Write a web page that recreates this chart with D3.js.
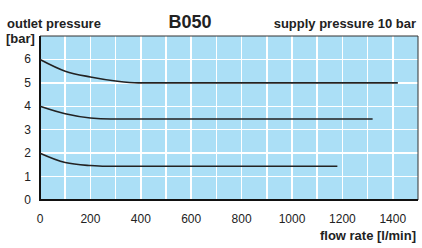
<!DOCTYPE html>
<html lang="en">
<head>
  <meta charset="UTF-8">
  <title>B050</title>
  <style type="text/css">
    body { margin: 0; background: #fff; font-family: "Liberation Sans", Arial, sans-serif; }
    .grid line { stroke: #fff; stroke-width: 1.5; shape-rendering: crispEdges; }
    .tick-label { font-size: 12px; fill: #222; }
    .label { font-size: 13px; font-weight: bold; fill: #222; }
  </style>
  <script src="https://cdn.jsdelivr.net/npm/d3@7"></script>
</head>
<body>
  <div class="main"></div>
  <script>
    // tick labels
    var xTicks = [0, 200, 400, 600, 800, 1000, 1200, 1400];
    var yTicks = [0, 1, 2, 3, 4, 5, 6];

    // curves: flow [l/min] vs outlet pressure [bar]
    var flow6 = [0, 100, 200, 300, 390, 1420];
    var press6 = [6, 5.5, 5.25, 5.08, 5.0, 5.0];
    var flow4 = [0, 100, 200, 280, 1320];
    var press4 = [4, 3.68, 3.5, 3.46, 3.46];
    var flow2 = [0, 100, 200, 260, 1180];
    var press2 = [2, 1.6, 1.47, 1.44, 1.44];

    var width = 422, height = 248;
    var x = d3.scaleLinear().domain([0, 1500]).range([40, 418]);
    var y = d3.scaleLinear().domain([0, 7]).range([200, 36]);

    var svg = d3.select(".main").append("svg")
      .attr("width", width)
      .attr("height", height);

    // plot background
    svg.append("rect")
      .attr("x", x(0)).attr("y", y(7))
      .attr("width", x(1500) - x(0)).attr("height", y(0) - y(7))
      .attr("fill", "#abdff6");

    // white grid
    var grid = svg.append("g").attr("class", "grid");
    grid.selectAll(".vx")
        .data(d3.range(100, 1500, 100))
      .enter().append("line")
        .attr("x1", function(d) { return x(d); })
        .attr("x2", function(d) { return x(d); })
        .attr("y1", y(7)).attr("y2", y(0));
    grid.selectAll(".hy")
        .data(d3.range(1, 7))
      .enter().append("line")
        .attr("x1", x(0)).attr("x2", x(1500))
        .attr("y1", function(d) { return y(d); })
        .attr("y2", function(d) { return y(d); });

    // frame: thin top/right, heavy left/bottom
    svg.append("path")
      .attr("d", "M" + x(0) + "," + y(7) + "H" + x(1500) + "V" + y(0))
      .attr("fill", "none").attr("stroke", "#333").attr("stroke-width", 1);
    svg.append("path")
      .attr("d", "M" + x(0) + "," + y(7) + "V" + y(0) + "H" + x(1500))
      .attr("fill", "none").attr("stroke", "#111").attr("stroke-width", 2);

    // curves
    var line = d3.line()
      .x(function(d) { return x(d[0]); })
      .y(function(d) { return y(d[1]); })
      .curve(d3.curveMonotoneX);
    [[flow6, press6], [flow4, press4], [flow2, press2]].forEach(function(s) {
      svg.append("path")
        .datum(d3.zip(s[0], s[1]))
        .attr("d", line)
        .attr("fill", "none")
        .attr("stroke", "#222")
        .attr("stroke-width", 1.6);
    });

    // axis tick labels
    svg.selectAll(".xt")
        .data(xTicks)
      .enter().append("text")
        .attr("class", "tick-label")
        .attr("x", function(d) { return x(d); })
        .attr("y", 223)
        .attr("text-anchor", "middle")
        .text(function(d) { return d; });
    svg.selectAll(".yt")
        .data(yTicks)
      .enter().append("text")
        .attr("class", "tick-label")
        .attr("x", 31)
        .attr("y", function(d) { return y(d) + 4; })
        .attr("text-anchor", "end")
        .text(function(d) { return d; });

    // titles
    svg.append("text").attr("class", "label")
      .attr("x", 7).attr("y", 28).text("outlet pressure");
    svg.append("text").attr("class", "label")
      .attr("x", 6).attr("y", 43).text("[bar]");
    svg.append("text").attr("class", "label")
      .attr("x", 416).attr("y", 28).attr("text-anchor", "end")
      .text("supply pressure 10 bar");
    svg.append("text").attr("class", "label")
      .attr("x", 190).attr("y", 28).attr("text-anchor", "middle")
      .style("font-size", "18px")
      .text("B050");
    svg.append("text").attr("class", "label")
      .attr("x", 416).attr("y", 240).attr("text-anchor", "end")
      .text("flow rate [l/min]");
  </script>
</body>
</html>
